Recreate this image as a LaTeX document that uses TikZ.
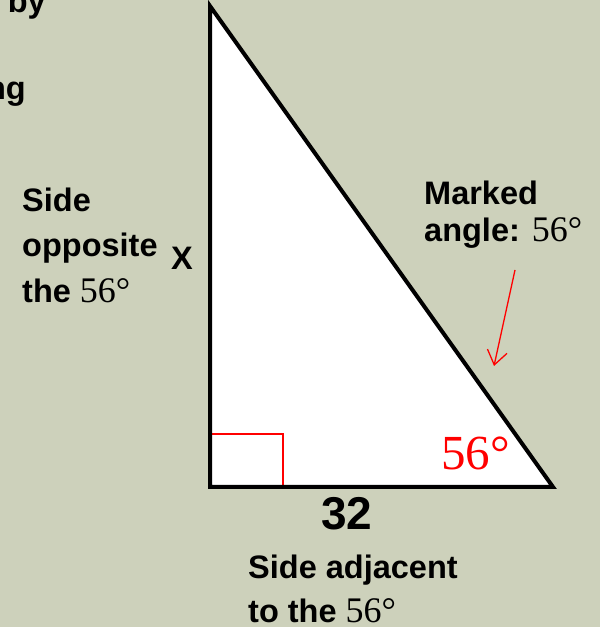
\documentclass[tikz,border=0pt]{standalone}
\usepackage{fontspec}
\setmainfont{Liberation Sans}
\newfontfamily\numfont{Liberation Serif}
\usetikzlibrary{arrows.meta}
\definecolor{slidebg}{RGB}{205,209,187}
\tikzset{
  lbl/.style={anchor=base west,inner sep=0pt,font=\fontsize{32.5}{36}\selectfont\bfseries},
  side/.style={line width=4pt,line join=miter}
}
\newcommand{\degnum}{{\numfont\mdseries\fontsize{36}{38}\selectfont 56°}}
\begin{document}
\begin{tikzpicture}[x=1pt,y=1pt]
\fill[slidebg] (0,0) rectangle (600,627);
\clip (0,0) rectangle (600,627);
\useasboundingbox (0,0) rectangle (600,627);
% cut-off text from the slide
\node[lbl,anchor=base east] (cutby) at (46,614) {n by};
\node[lbl,anchor=base east] (cutng) at (26,527) {ng};
% triangle
\coordinate (top) at (210,621);
\coordinate (corner) at (210,140);
\coordinate (tip) at (553,140);
\fill[white] (top) -- (corner) -- (tip) -- cycle;
\draw[red,line width=1.5pt] (210,193) -- (283,193) -- (283,140);
\draw[side] (top) -- (corner) -- (tip) -- cycle;
% labels
\node[lbl] (side1) at (22,415) {Side};
\node[lbl] (side2) at (22,370) {opposite};
\node[lbl] (side3) at (22,324) {the \degnum};
\node[lbl] (xlab) at (171,357) {X};
\node[lbl,font=\fontsize{46}{48}\selectfont\bfseries] (base) at (321,97) {32};
\node[lbl] (adj1) at (248,48) {Side adjacent};
\node[lbl] (adj2) at (248,5) {to the \degnum};
\node[lbl] (mark1) at (424,422) {Marked};
\node[lbl] (mark2) at (424,385) {angle: \degnum};
\node[anchor=base west,inner sep=0pt,text=red,font=\numfont\fontsize{49}{52}\selectfont] (angle) at (441,157) {56°};
% arrow to the angle
\coordinate (arrfrom) at (515,357);
\coordinate (arrto) at (494,261);
\draw[red,line width=1.3pt,-{Straight Barb[length=14pt,width=20pt]}] (arrfrom) -- (arrto);
\end{tikzpicture}
\end{document}
